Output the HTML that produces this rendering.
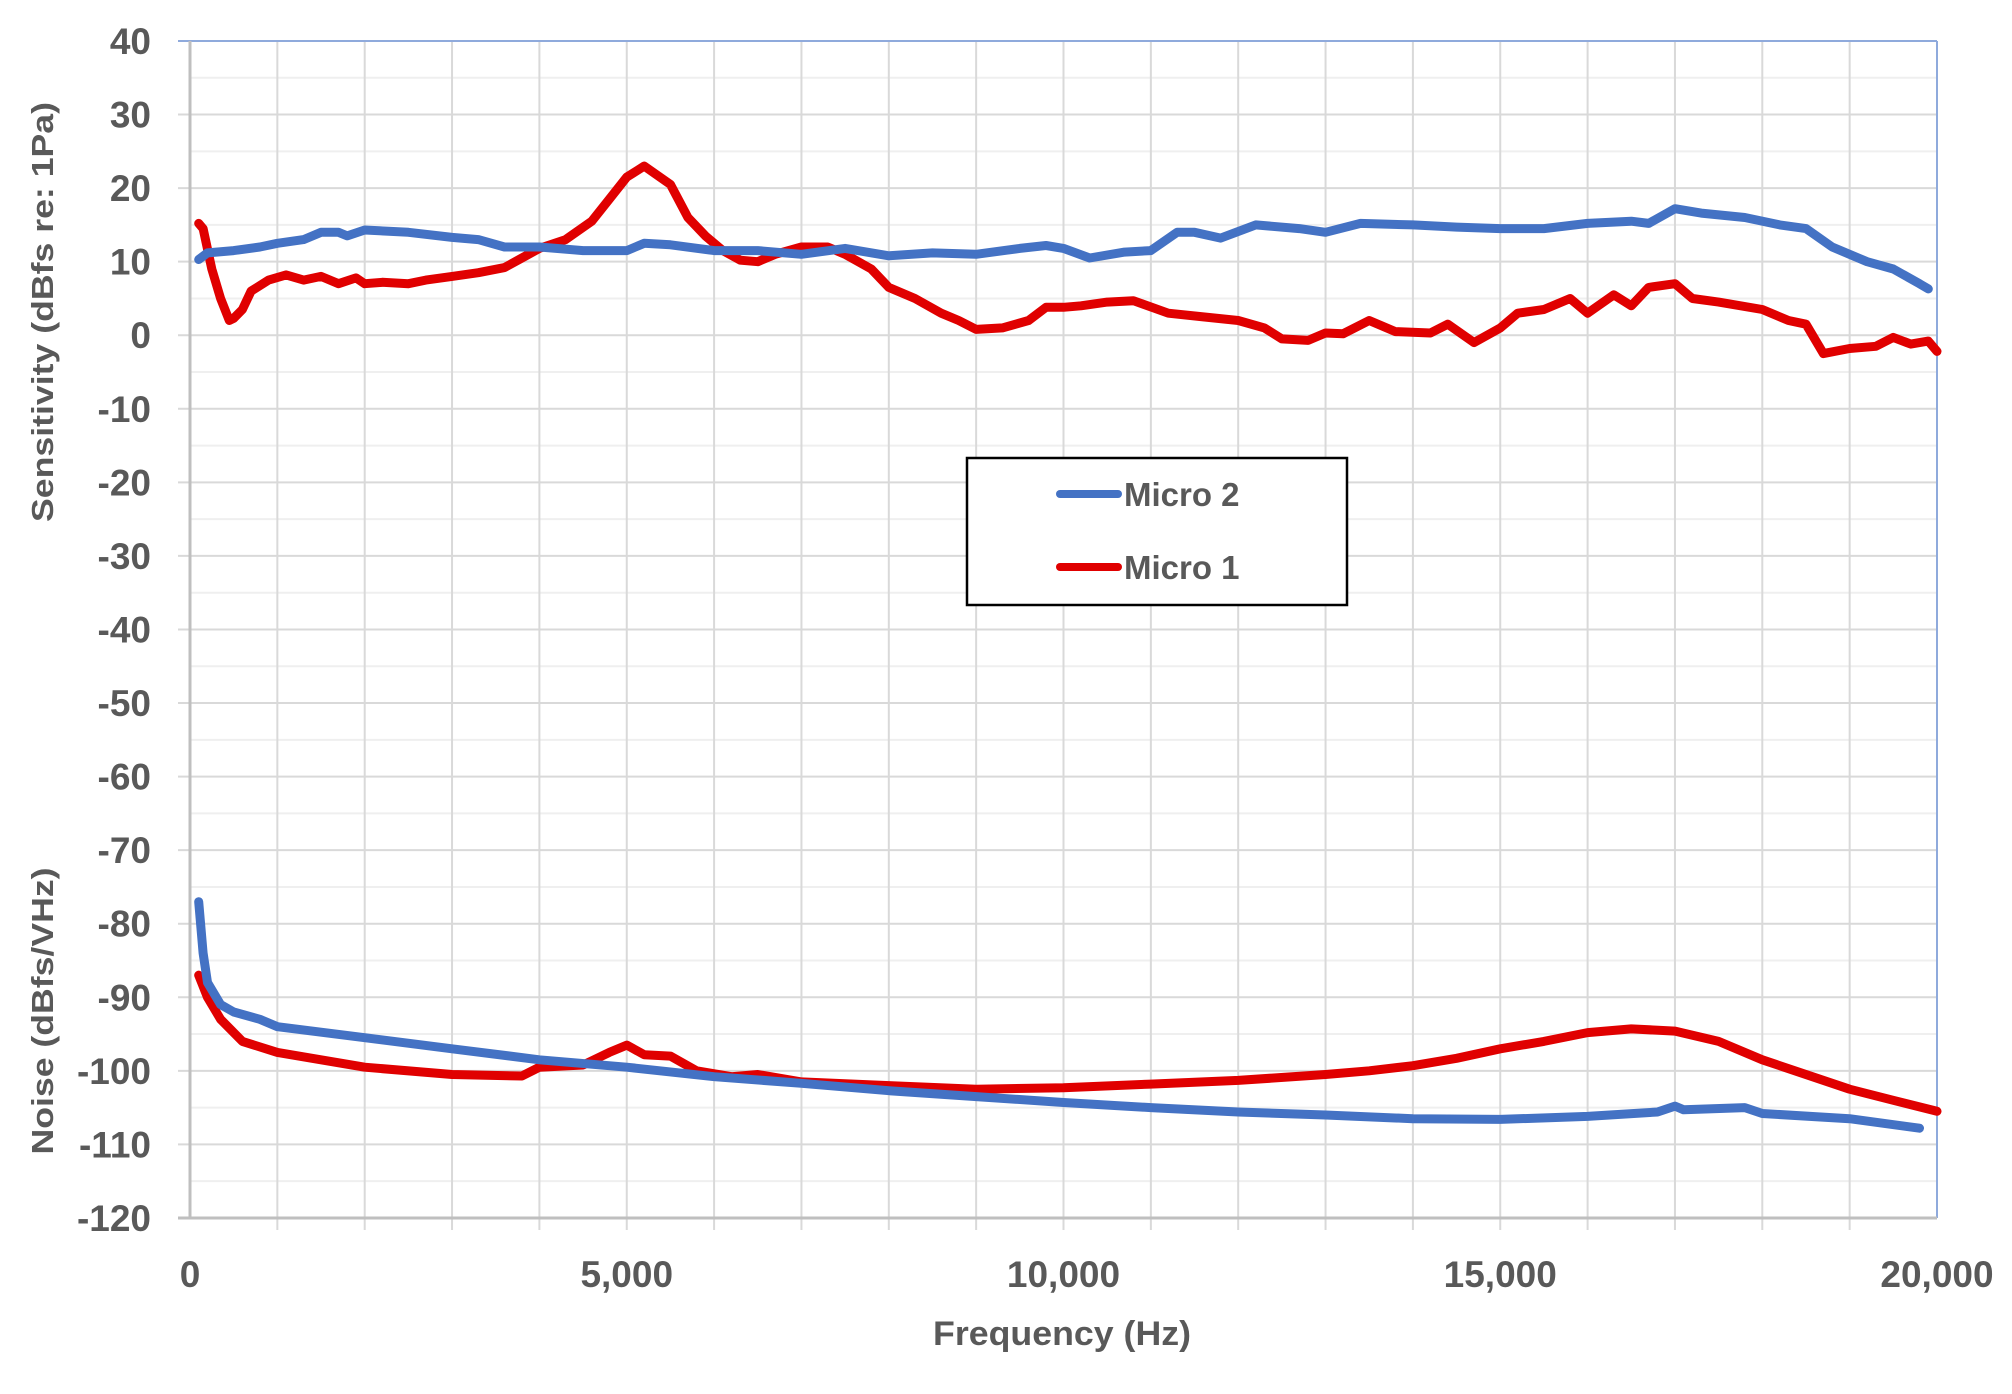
<!DOCTYPE html>
<html><head><meta charset="utf-8"><style>
html,body{margin:0;padding:0;background:#fff;}
svg{display:block;}
text{font-family:"Liberation Sans",sans-serif;font-weight:bold;fill:#595959;}
</style></head><body>
<svg id="s" width="2012" height="1394" viewBox="0 0 2012 1394" xmlns="http://www.w3.org/2000/svg">
<g id="grid"></g>
<g id="lab"></g>
<g id="ser" fill="none" stroke-linejoin="round" stroke-linecap="round" stroke-width="9"></g>
<rect x="967" y="458" width="380" height="147" fill="#fff" stroke="#000" stroke-width="2.5"/>
<line x1="1060" y1="494" x2="1118" y2="494" stroke="#4472c4" stroke-width="8" stroke-linecap="round"/>
<line x1="1060" y1="567" x2="1118" y2="567" stroke="#e00000" stroke-width="8" stroke-linecap="round"/>
<text x="1124" y="506" font-size="33">Micro 2</text>
<text x="1124" y="579" font-size="33">Micro 1</text>
<text x="1062" y="1345" font-size="34" text-anchor="middle" textLength="258" lengthAdjust="spacingAndGlyphs">Frequency (Hz)</text>
<text transform="translate(53,312) rotate(-90)" font-size="31" text-anchor="middle" textLength="420" lengthAdjust="spacingAndGlyphs">Sensitivity (dBfs re: 1Pa)</text>
<text transform="translate(53,1011) rotate(-90)" font-size="31" text-anchor="middle" textLength="287" lengthAdjust="spacingAndGlyphs">Noise (dBfs/VHz)</text>
</svg>
<script>
var NS="http://www.w3.org/2000/svg";
function X(f){return 190+f*0.08735;}
function Y(v){return 41+(40-v)*7.356;}
function el(p,t,a,txt){var e=document.createElementNS(NS,t);for(var k in a)e.setAttribute(k,a[k]);if(txt!==undefined)e.textContent=txt;document.getElementById(p).appendChild(e);return e;}
for(var v=35;v>-120;v-=10)el("grid","line",{x1:190,x2:1937,y1:Y(v),y2:Y(v),stroke:"#efefef","stroke-width":2});
for(var v=30;v>-120;v-=10)el("grid","line",{x1:178,x2:1937,y1:Y(v),y2:Y(v),stroke:"#d9d9d9","stroke-width":2});
for(var f=1000;f<20000;f+=1000)el("grid","line",{x1:X(f),x2:X(f),y1:41,y2:1230,stroke:"#d9d9d9","stroke-width":2});
el("grid","line",{x1:178,x2:1937,y1:41,y2:41,stroke:"#8faadc","stroke-width":2});
el("grid","line",{x1:1937,x2:1937,y1:41,y2:1218,stroke:"#8faadc","stroke-width":2});
el("grid","line",{x1:190,x2:190,y1:41,y2:1218,stroke:"#bfbfbf","stroke-width":3});
el("grid","line",{x1:178,x2:1937,y1:1218,y2:1218,stroke:"#bfbfbf","stroke-width":3});
for(var v=40;v>=-120;v-=10)el("lab","text",{x:151,y:Y(v)+13,"font-size":37,"text-anchor":"end"},String(v));
var xl=[[0,"0"],[5000,"5,000"],[10000,"10,000"],[15000,"15,000"],[20000,"20,000"]];
xl.forEach(function(a){el("lab","text",{x:X(a[0]),y:1287,"font-size":37,"text-anchor":"middle"},a[1]);});
function S(d,c){var p=[];for(var i=0;i<d.length;i+=2)p.push(X(d[i]).toFixed(1)+","+Y(d[i+1]).toFixed(1));el("ser","polyline",{points:p.join(" "),stroke:c});}
S([100,15.2,150,14.5,250,9,350,5,450,2,500,2.3,600,3.5,700,6,900,7.5,1100,8.2,1300,7.5,1500,8,1700,7,1900,7.8,2000,7,2200,7.2,2500,7,2700,7.5,3000,8,3300,8.5,3600,9.2,3800,10.5,4000,11.8,4300,13,4600,15.5,4800,18.5,5000,21.5,5200,23,5500,20.5,5700,16,5900,13.5,6100,11.5,6300,10.2,6500,10,6700,11,7000,12,7300,12,7500,11,7800,9,8000,6.5,8300,5,8600,3,8800,2,9000,0.8,9300,1,9600,2,9800,3.8,10000,3.8,10200,4,10500,4.5,10800,4.7,11200,3,11600,2.5,12000,2,12300,1,12500,-0.5,12800,-0.7,13000,0.3,13200,0.2,13500,2,13800,0.5,14200,0.3,14400,1.5,14700,-1,15000,1,15200,3,15500,3.5,15800,5,16000,3,16300,5.5,16500,4,16700,6.5,17000,7,17200,5,17500,4.5,18000,3.5,18300,2,18500,1.5,18700,-2.5,19000,-1.8,19300,-1.5,19500,-0.3,19700,-1.2,19900,-0.8,20000,-2.2],"#e00000");
S([100,10.3,200,11.2,500,11.5,800,12,1000,12.5,1300,13,1500,14,1700,14,1800,13.5,2000,14.3,2500,14,3000,13.3,3300,13,3600,12,4000,12,4500,11.5,5000,11.5,5200,12.5,5500,12.3,6000,11.5,6500,11.5,7000,11,7500,11.8,8000,10.8,8500,11.2,9000,11,9500,11.8,9800,12.2,10000,11.8,10300,10.5,10700,11.3,11000,11.5,11300,14,11500,14,11800,13.2,12200,15,12700,14.5,13000,14,13400,15.2,14000,15,14500,14.7,15000,14.5,15500,14.5,16000,15.2,16500,15.5,16700,15.2,17000,17.2,17300,16.6,17800,16,18200,15,18500,14.5,18800,12,19200,10,19500,9,19800,7,19900,6.3],"#4472c4");
S([100,-87,200,-90,350,-93,600,-96,1000,-97.5,1500,-98.5,2000,-99.5,3000,-100.5,3800,-100.7,4000,-99.5,4500,-99.2,4800,-97.5,5000,-96.5,5200,-97.8,5500,-98,5800,-100,6200,-100.8,6500,-100.5,7000,-101.5,8000,-102,9000,-102.5,10000,-102.3,11000,-101.8,12000,-101.3,13000,-100.5,13500,-100,14000,-99.3,14500,-98.3,15000,-97,15500,-96,16000,-94.8,16500,-94.3,17000,-94.6,17500,-96,18000,-98.5,19000,-102.5,19500,-104,20000,-105.5],"#e00000");
S([100,-77,150,-84,200,-88,350,-91,500,-92,800,-93,1000,-94,2000,-95.5,3000,-97,4000,-98.5,5000,-99.5,6000,-100.8,7000,-101.7,8000,-102.7,9000,-103.5,10000,-104.3,11000,-105,12000,-105.6,13000,-106,14000,-106.5,15000,-106.6,16000,-106.2,16800,-105.6,17000,-104.8,17100,-105.3,17800,-105,18000,-105.8,19000,-106.5,19800,-107.8],"#4472c4");
</script>
</body></html>
